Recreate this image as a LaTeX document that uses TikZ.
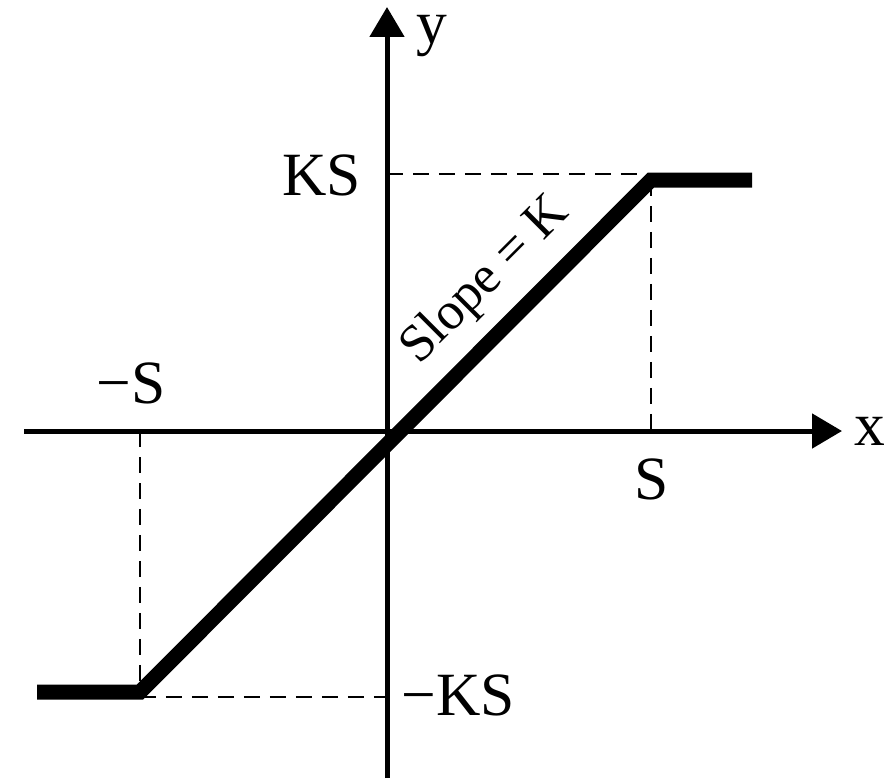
\documentclass[tikz,border=0pt]{standalone}
\usepackage{fontspec}
\setmainfont{Liberation Serif}
\usetikzlibrary{arrows.meta, positioning}

\tikzset{
    axis/.style={line width=0.1cm, -{Triangle[length=0.6cm,width=0.68cm]}},
    sat/.style={line width=0.3cm},
    guide/.style={line width=0.05cm, dash pattern=on 0.32cm off 0.2cm},
    lbl/.style={inner sep=0pt, font=\fontsize{35}{42}\selectfont},
}

\begin{document}
\begin{tikzpicture}[x=0.02cm, y=-0.02cm]
    \useasboundingbox (0,0) rectangle (892,778);

    % Key points
    \coordinate (O) at (387,431);
    \coordinate (xstart) at (24,431);
    \coordinate (xend) at (842,431);
    \coordinate (ystart) at (387,778);
    \coordinate (yend) at (387,7);
    \coordinate (lo) at (140,692);
    \coordinate (hi) at (651,180);
    \coordinate (loend) at (37,692);
    \coordinate (hiend) at (752,180);

    % Dashed guides to the corners
    \draw[guide] ([yshift=0.12cm]O |- hi) -- ([yshift=0.12cm]hi);
    \draw[guide] (hi) -- (hi |- O);
    \draw[guide] (lo |- O) -- (lo);
    \draw[guide] ([yshift=-0.1cm]lo) -- ([yshift=-0.1cm]O |- lo);

    % Define axes
    \draw[axis] (xstart) -- (xend);
    \draw[axis] (ystart) -- (yend);

    % Saturation curve
    \draw[sat] (loend) -- (lo) -- (hi) -- (hiend);

    % Axis labels
    \node[lbl, anchor=base west] (xlab) at (854,445) {x};
    \node[lbl, anchor=base west] (ylab) at (416,43) {y};

    % Tick values
    \node[lbl, anchor=base east] (KS) at (361,195) {KS};
    \node[lbl, anchor=base west] (mKS) at (401,715) {−KS};
    \node[lbl, anchor=base] (S) at (652,499) {S};
    \node[lbl, anchor=base west] (mS) at (96,403) {−S};

    % Slope label
    \node[lbl, rotate=45, font=\fontsize{30}{36}\selectfont] (slope) at (486,281) {Slope = K};
\end{tikzpicture}
\end{document}
